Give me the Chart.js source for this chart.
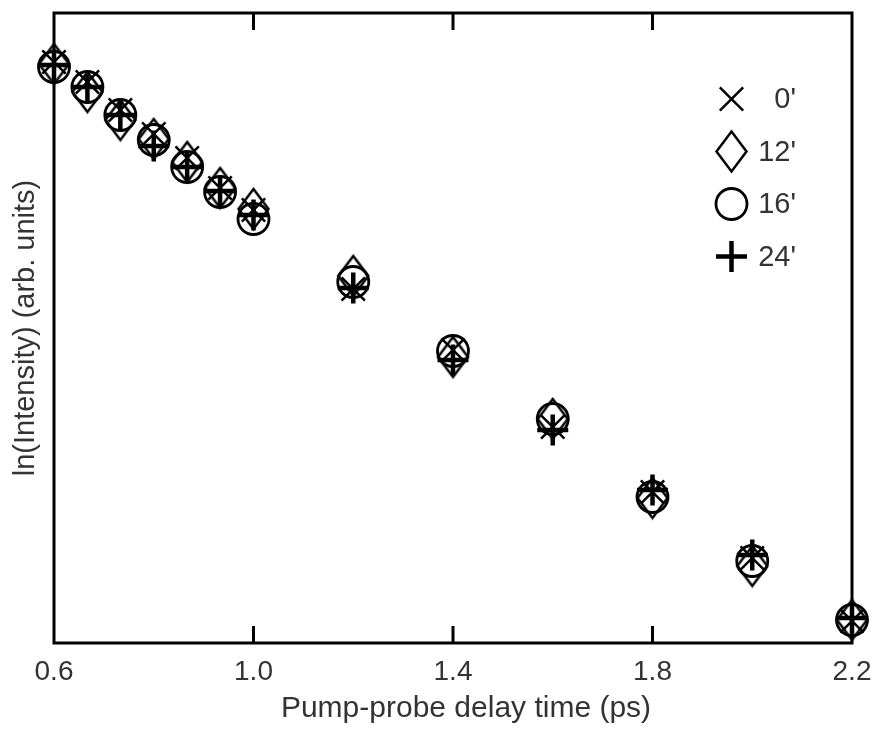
<!DOCTYPE html>
<html>
<head>
<meta charset="utf-8">
<title>ln(Intensity) vs pump-probe delay</title>
<script src="https://cdn.jsdelivr.net/npm/chart.js@4.4.1/dist/chart.umd.min.js"></script>
<style>
  body { margin: 0; background: #fff; }
  #wrap { width: 872px; height: 729px; }
</style>
</head>
<body>
<div id="wrap"><canvas id="chart" width="872" height="729"></canvas></div>
<script>
// delay times (ps)
const delays = [0.6, 0.667, 0.733, 0.8, 0.867, 0.933, 1.0, 1.2, 1.4, 1.6, 1.8, 2.0, 2.2];
// ln(intensity) in arb. units, one list per series
const ln0  = [5.81, 5.61, 5.33, 5.09, 4.85, 4.55, 4.33, 3.54, 2.93, 2.16, 1.51, 0.85, 0.22];
const ln12 = [5.79, 5.51, 5.23, 5.04, 4.81, 4.55, 4.34, 3.67, 2.86, 2.24, 1.45, 0.77, 0.23];
const ln16 = [5.76, 5.56, 5.28, 5.03, 4.76, 4.51, 4.24, 3.61, 2.92, 2.24, 1.46, 0.82, 0.23];
const ln24 = [5.78, 5.56, 5.28, 4.97, 4.76, 4.52, 4.28, 3.55, 2.83, 2.13, 1.53, 0.88, 0.25];
const seriesLabels = ["0'", "12'", "16'", "24'"];
const xTicks = [0.6, 1.0, 1.4, 1.8, 2.2];

const FONT = '"Liberation Sans", Arial, Helvetica, sans-serif';
const TEXT = '#333';

// tall open diamond, Chart.js has only the square one
function makeDiamond(w, h, lw) {
    const c = document.createElement('canvas');
    c.width = w; c.height = h;
    const g = c.getContext('2d');
    g.strokeStyle = '#000';
    g.lineWidth = lw;
    g.lineJoin = 'miter';
    g.beginPath();
    g.moveTo(w / 2, lw);
    g.lineTo(w - lw, h / 2);
    g.lineTo(w / 2, h - lw);
    g.lineTo(lw, h / 2);
    g.closePath();
    g.stroke();
    return c;
}
const diamond = makeDiamond(35, 45, 2.5);

function toPoints(ys) {
    return delays.map((x, i) => ({ x: x, y: ys[i] }));
}

const markers = [
    { pointStyle: 'crossRot', radius: 16.5, borderWidth: 2.5 },
    { pointStyle: diamond, radius: 17, borderWidth: 2.5 },
    { pointStyle: 'circle', radius: 15.5, borderWidth: 2.8 },
    { pointStyle: 'cross', radius: 15.5, borderWidth: 4.5 }
];
const values = [ln0, ln12, ln16, ln24];

const datasets = values.map((ys, i) => ({
    label: seriesLabels[i],
    data: toPoints(ys),
    pointStyle: markers[i].pointStyle,
    pointRadius: markers[i].radius,
    pointBorderWidth: markers[i].borderWidth,
    borderColor: '#000',
    backgroundColor: 'rgba(0,0,0,0)',
    showLine: false,
    clip: false
}));

// frame, inward ticks, legend and x title
const decor = {
    id: 'decor',
    beforeDatasetsDraw(chart) {
        const { ctx, chartArea: a } = chart;
        const xs = chart.scales.x;
        ctx.save();
        ctx.strokeStyle = '#000';
        ctx.lineWidth = 3;
        ctx.strokeRect(a.left, a.top, a.right - a.left, a.bottom - a.top);
        xs.ticks.forEach(t => {
            if (t.value <= xs.min || t.value >= xs.max) return;
            const px = xs.getPixelForValue(t.value);
            ctx.beginPath();
            ctx.moveTo(px, a.bottom);
            ctx.lineTo(px, a.bottom - 17);
            ctx.moveTo(px, a.top);
            ctx.lineTo(px, a.top + 17);
            ctx.stroke();
        });
        ctx.restore();
    },
    afterDraw(chart) {
        const { ctx } = chart;
        const drawPoint = Chart.helpers.drawPoint;
        ctx.save();
        chart.data.datasets.forEach((ds, i) => {
            const y = 99 + i * 52.5;
            ctx.strokeStyle = '#000';
            ctx.fillStyle = 'rgba(0,0,0,0)';
            ctx.lineWidth = ds.pointBorderWidth;
            drawPoint(ctx, {
                pointStyle: ds.pointStyle,
                radius: ds.pointRadius,
                rotation: 0,
                borderWidth: ds.pointBorderWidth
            }, 731.5, y);
            ctx.fillStyle = TEXT;
            ctx.font = '29px ' + FONT;
            ctx.textAlign = 'right';
            ctx.textBaseline = 'middle';
            ctx.fillText(ds.label, 796, y + 1);
        });
        ctx.fillStyle = TEXT;
        ctx.font = '30px ' + FONT;
        ctx.textAlign = 'center';
        ctx.textBaseline = 'middle';
        ctx.fillText('Pump-probe delay time (ps)', 466, 709);
        ctx.restore();
    }
};

new Chart(document.getElementById('chart'), {
    type: 'scatter',
    data: { datasets: datasets },
    options: {
        responsive: false,
        animation: false,
        events: [],
        layout: { autoPadding: false, padding: { top: 13, right: 20, left: 0, bottom: 0 } },
        plugins: {
            legend: { display: false },
            tooltip: { enabled: false }
        },
        scales: {
            x: {
                type: 'linear',
                min: 0.6,
                max: 2.2,
                afterBuildTicks: scale => {
                    scale.ticks = xTicks.map(v => ({ value: v }));
                },
                afterFit: scale => {
                    scale.height = 86;
                    scale.paddingLeft = 0;
                    scale.paddingRight = 0;
                    scale.paddingTop = 0;
                    scale.paddingBottom = 0;
                },
                grid: { display: false, drawTicks: false },
                border: { display: false },
                ticks: {
                    autoSkip: false,
                    maxRotation: 0,
                    padding: 12,
                    color: TEXT,
                    font: { family: FONT, size: 28 },
                    callback: v => Number(v).toFixed(1)
                }
            },
            y: {
                type: 'linear',
                min: 0,
                max: 6.3,
                afterFit: scale => {
                    scale.width = 54;
                    scale.paddingTop = 0;
                    scale.paddingBottom = 0;
                    scale.paddingLeft = 0;
                    scale.paddingRight = 0;
                },
                grid: { display: false, drawTicks: false },
                border: { display: false },
                ticks: { display: false },
                title: {
                    display: true,
                    text: 'ln(Intensity) (arb. units)',
                    color: TEXT,
                    font: { family: FONT, size: 29 },
                    padding: { top: 9, bottom: 0 }
                }
            }
        }
    },
    plugins: [decor]
});
</script>
</body>
</html>
